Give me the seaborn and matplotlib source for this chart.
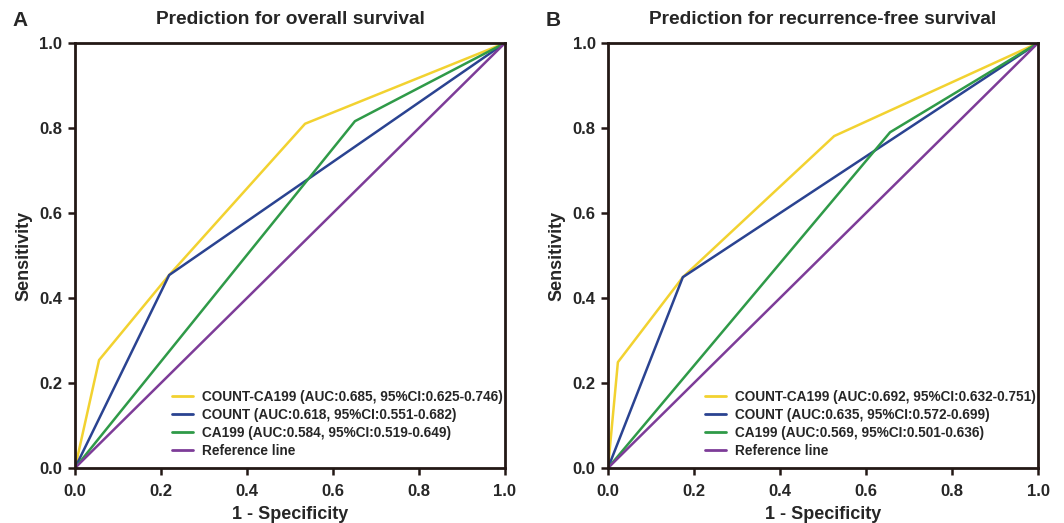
import numpy as np
import pandas as pd
import matplotlib
matplotlib.use("Agg")
import matplotlib.pyplot as plt
import seaborn as sns

# Panel A: overall survival
a_labels = ["COUNT-CA199 (AUC:0.685, 95%CI:0.625-0.746)",
            "COUNT (AUC:0.618, 95%CI:0.551-0.682)",
            "CA199 (AUC:0.584, 95%CI:0.519-0.649)",
            "Reference line"]
a_fpr = [[0.0, 0.056, 0.219, 0.535, 1.0],
         [0.0, 0.219, 1.0],
         [0.0, 0.651, 1.0],
         [0.0, 1.0]]
a_tpr = [[0.0, 0.254, 0.454, 0.81, 1.0],
         [0.0, 0.454, 1.0],
         [0.0, 0.816, 1.0],
         [0.0, 1.0]]

# Panel B: recurrence-free survival
b_labels = ["COUNT-CA199 (AUC:0.692, 95%CI:0.632-0.751)",
            "COUNT (AUC:0.635, 95%CI:0.572-0.699)",
            "CA199 (AUC:0.569, 95%CI:0.501-0.636)",
            "Reference line"]
b_fpr = [[0.0, 0.023, 0.174, 0.526, 1.0],
         [0.0, 0.174, 1.0],
         [0.0, 0.656, 1.0],
         [0.0, 1.0]]
b_tpr = [[0.0, 0.249, 0.449, 0.781, 1.0],
         [0.0, 0.449, 1.0],
         [0.0, 0.79, 1.0],
         [0.0, 1.0]]

titles = ["Prediction for overall survival", "Prediction for recurrence-free survival"]
panel_tags = ["A", "B"]
colors = ["#F2D230", "#2A4391", "#2F9A48", "#7D3C98"]
ticks = [0.0, 0.2, 0.4, 0.6, 0.8, 1.0]

sns.set_theme(style="white")
plt.rcParams['font.family'] = ['Liberation Sans', 'DejaVu Sans']
plt.rcParams['font.weight'] = 'bold'

fig = plt.figure(figsize=(10.64, 5.23), dpi=100)
axes = [fig.add_axes([75/1064, 1-468/523, 430/1064, 425/523]),
        fig.add_axes([608/1064, 1-468/523, 430/1064, 425/523])]

def build(labels, fprs, tprs):
    rows = []
    for lab, fx, ty in zip(labels, fprs, tprs):
        for i, (x, y) in enumerate(zip(fx, ty)):
            rows.append({"model": lab, "fpr": x, "tpr": y, "order": i})
    return pd.DataFrame(rows)

panels = [(a_labels, a_fpr, a_tpr), (b_labels, b_fpr, b_tpr)]
for ax, (labs, fx, ty), title, tag in zip(axes, panels, titles, panel_tags):
    df = build(labs, fx, ty)
    sns.lineplot(data=df, x="fpr", y="tpr", hue="model", hue_order=labs,
                 palette=dict(zip(labs, colors)), sort=False, estimator=None,
                 linewidth=1.8, ax=ax)
    ax.set_xlim(0, 1)
    ax.set_ylim(0, 1)
    ax.set_xticks(ticks)
    ax.set_yticks(ticks)
    ax.set_xticklabels([f"{t:.1f}" for t in ticks], fontsize=12, fontweight='bold')
    ax.set_yticklabels([f"{t:.1f}" for t in ticks], fontsize=12, fontweight='bold')
    ax.set_xlabel("1 - Specificity", fontsize=13, fontweight='bold', labelpad=5)
    ax.set_ylabel("Sensitivity", fontsize=13, fontweight='bold', labelpad=5)
    ax.set_title(title, fontsize=13.8, fontweight='bold', pad=14)
    for s in ax.spines.values():
        s.set_visible(True)
        s.set_color("#231815")
        s.set_linewidth(2.0)
    ax.tick_params(axis='both', which='both', direction='out', length=5, width=1.8,
                   color="#231815", left=True, bottom=True)
    ax.tick_params(axis='x', pad=6.5)
    ax.tick_params(axis='y', pad=4)
    leg = ax.legend(loc="lower right", bbox_to_anchor=(1.0, 0.017), frameon=False,
                    fontsize=9.8, handlelength=1.6, handletextpad=0.6,
                    labelspacing=0.3, borderaxespad=0.1, borderpad=0.1)
    for t in leg.get_texts():
        t.set_fontweight('bold')
    for l in leg.get_lines():
        l.set_linewidth(2.0)
    ax.text(-0.128, 1.054, tag, transform=ax.transAxes, fontsize=15,
            fontweight='bold', ha='center', va='center')

fig.savefig("out.png", dpi=100)
